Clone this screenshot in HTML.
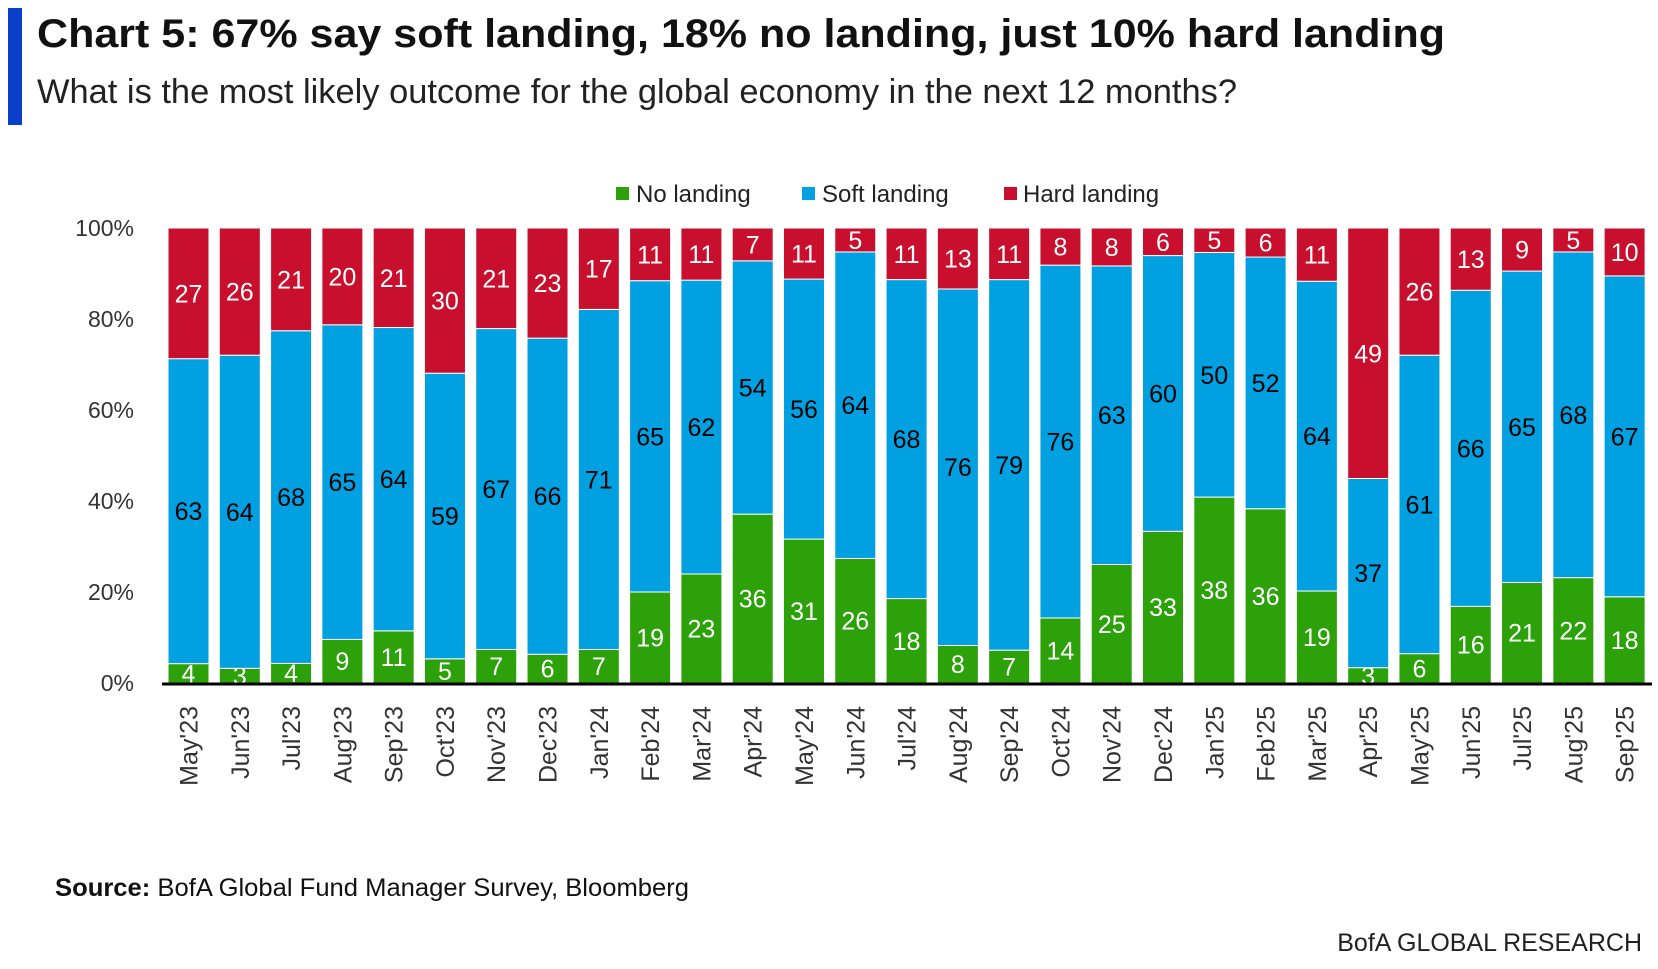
<!DOCTYPE html>
<html><head><meta charset="utf-8"><style>
body{margin:0;background:#fff;width:1658px;height:964px;overflow:hidden;font-family:"Liberation Sans",sans-serif}
svg text{font-family:"Liberation Sans",sans-serif}
</style></head><body>
<svg id="c" width="1658" height="964" xmlns="http://www.w3.org/2000/svg">
<rect x="8" y="8" width="14" height="117" fill="#0a3fc9"/>
<text x="37" y="47" font-size="40" font-weight="bold" fill="#111" textLength="1408" lengthAdjust="spacingAndGlyphs">Chart 5: 67% say soft landing, 18% no landing, just 10% hard landing</text>
<text x="37" y="103" font-size="34" fill="#222" textLength="1200" lengthAdjust="spacingAndGlyphs">What is the most likely outcome for the global economy in the next 12 months?</text>
<g>
<rect x="616" y="187" width="13" height="13" fill="#2ca10a"/>
<text x="636" y="202" font-size="24" fill="#222">No landing</text>
<rect x="802" y="187" width="13" height="13" fill="#00a0e1"/>
<text x="822" y="202" font-size="24" fill="#222">Soft landing</text>
<rect x="1004" y="187" width="13" height="13" fill="#c8102e"/>
<text x="1023" y="202" font-size="24" fill="#222">Hard landing</text>
</g>
<g id="plot"></g>
<text x="55" y="896" font-size="25" fill="#111" textLength="634" lengthAdjust="spacingAndGlyphs"><tspan font-weight="bold">Source:</tspan> BofA Global Fund Manager Survey, Bloomberg</text>
<text x="1642" y="951" font-size="25" fill="#222" text-anchor="end">BofA GLOBAL RESEARCH</text>
</svg>
<script>
const months=["May'23","Jun'23","Jul'23","Aug'23","Sep'23","Oct'23","Nov'23","Dec'23","Jan'24","Feb'24","Mar'24","Apr'24","May'24","Jun'24","Jul'24","Aug'24","Sep'24","Oct'24","Nov'24","Dec'24","Jan'25","Feb'25","Mar'25","Apr'25","May'25","Jun'25","Jul'25","Aug'25","Sep'25"];
const noLanding=[4,3,4,9,11,5,7,6,7,19,23,36,31,26,18,8,7,14,25,33,38,36,19,3,6,16,21,22,18];
const softLanding=[63,64,68,65,64,59,67,66,71,65,62,54,56,64,68,76,79,76,63,60,50,52,64,37,61,66,65,68,67];
const hardLanding=[27,26,21,20,21,30,21,23,17,11,11,7,11,5,11,13,11,8,8,6,5,6,11,49,26,13,9,5,10];
const yTicks=[0,20,40,60,80,100];

const NS="http://www.w3.org/2000/svg";
const g=document.getElementById('plot');
const x0=168,pitch=51.29,bw=41,yTop=228,yBot=683;
const xs=i=>x0+i*pitch;
const ys=v=>yBot-(v/100)*(yBot-yTop);
function mk(t,a){const e=document.createElementNS(NS,t);for(const k in a)e.setAttribute(k,a[k]);g.appendChild(e);return e;}
yTicks.forEach(v=>{
  const t=mk('text',{x:134,y:ys(v)+8,'font-size':23,'text-anchor':'end',fill:'#333'});
  
  
  t.textContent=v+'%';
});
const series=[[noLanding,'#2ca10a','#fff','no-landing'],[softLanding,'#00a0e1','#000','soft-landing'],[hardLanding,'#c8102e','#fff','hard-landing']];
months.forEach((m,i)=>{
  const tot=noLanding[i]+softLanding[i]+hardLanding[i];
  let cum=0;
  series.forEach(([arr,col,tc,nm])=>{
    const v=arr[i]/tot*100;
    const y1=ys(cum+v),y0=ys(cum);
    const r=mk('rect',{x:xs(i),y:y1,width:bw,height:y0-y1,fill:col,stroke:'#fff','stroke-width':1});
    
    
    const t=mk('text',{x:xs(i)+bw/2,y:(y0+y1)/2+9,'font-size':25,'text-anchor':'middle',fill:tc});
    
    
    t.textContent=arr[i];
    cum+=v;
  });
  const cx=xs(i)+bw/2+9;
  const l=mk('text',{x:0,y:0,'font-size':25,'text-anchor':'end',fill:'#333',transform:`translate(${cx},706) rotate(-90)`});
  
  
  l.textContent=m;
});
const ax=mk('line',{x1:162,x2:1652,y1:yBot+1,y2:yBot+1,stroke:'#000','stroke-width':3});


</script>
</body></html>
